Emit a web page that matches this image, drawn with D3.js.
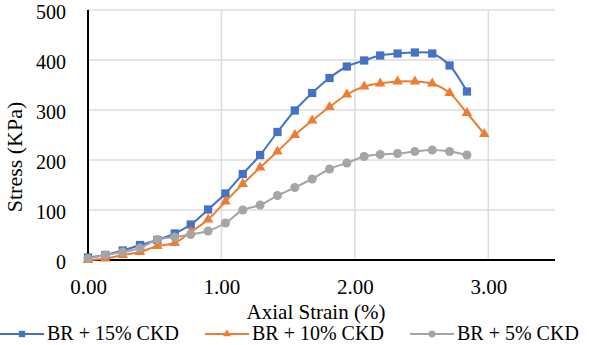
<!DOCTYPE html>
<html>
<head>
<meta charset="utf-8">
<script src="https://cdn.jsdelivr.net/npm/d3@7"></script>
<style>
  body { margin: 0; background: #fff; }
  text { font-family: "Liberation Serif", "Times New Roman", serif; fill: #000; }
</style>
</head>
<body>
<div id="chart"></div>
<script>
// data
var strain = [0, 0.13, 0.26, 0.39, 0.52, 0.65, 0.77, 0.90, 1.03, 1.16, 1.29, 1.42,
  1.55, 1.68, 1.81, 1.94, 2.07, 2.19, 2.32, 2.45, 2.58, 2.71, 2.84, 2.97];
var ckd15 = [5, 10, 19, 30, 40, 53, 71, 101, 133, 172, 210, 256, 299, 334, 364, 387,
  399, 409, 413, 415, 413, 389, 337];
var ckd10 = [0, 3, 10, 16, 28, 34, 56, 81, 117, 152, 185, 217, 250, 279, 306, 331,
  347, 353, 357, 357, 353, 334, 294, 252];
var ckd5 = [3, 10, 16, 24, 41, 46, 51, 58, 74, 100, 110, 129, 145, 162, 182, 194,
  207, 211, 213, 217, 220, 217, 210];
var xTicks = [0, 1, 2, 3];
var yTicks = [0, 100, 200, 300, 400, 500];
var seriesNames = ["BR + 15% CKD", "BR + 10% CKD", "BR + 5% CKD"];

var svgWidth = 589;
var svgHeight = 345;

var svg = d3.select("#chart")
  .append("svg")
  .attr("width", svgWidth)
  .attr("height", svgHeight);

var x = d3.scaleLinear().domain([0, 3.5]).range([88, 555]);
var y = d3.scaleLinear().domain([0, 500]).range([260, 10]);

var series = [
  { name: seriesNames[0], values: ckd15, color: "#4472c4", shape: d3.symbolSquare, size: 68 },
  { name: seriesNames[1], values: ckd10, color: "#ed7d31", shape: d3.symbolTriangle, size: 48 },
  { name: seriesNames[2], values: ckd5, color: "#a5a5a5", shape: d3.symbolCircle, size: 64 }
];

// gridlines
svg.append("g")
  .selectAll("line.h")
  .data(yTicks.slice(1))
  .enter()
  .append("line")
  .attr("x1", x(0)).attr("x2", x(3.5))
  .attr("y1", d => y(d)).attr("y2", d => y(d))
  .attr("stroke", "#dadde3")
  .attr("stroke-width", 1.5);

svg.append("g")
  .selectAll("line.v")
  .data(xTicks.slice(1))
  .enter()
  .append("line")
  .attr("x1", d => x(d)).attr("x2", d => x(d))
  .attr("y1", y(500)).attr("y2", y(0))
  .attr("stroke", "#dadde3")
  .attr("stroke-width", 1.5);

// axes
var bottomAxis = d3.axisBottom(x).tickValues(xTicks).tickSize(0).tickPadding(19)
  .tickFormat(d3.format(".2f"));
var leftAxis = d3.axisLeft(y).tickValues(yTicks).tickSize(0).tickPadding(22);

var xAxis = svg.append("g")
  .attr("transform", `translate(0, ${y(0)})`)
  .call(bottomAxis);
var yAxis = svg.append("g")
  .attr("transform", `translate(${x(0)}, 0)`)
  .call(leftAxis);

xAxis.select(".domain").remove();
yAxis.select(".domain").remove();
xAxis.selectAll("text").style("font-size", "21px").attr("fill", "#000");
yAxis.selectAll("text").style("font-size", "20px").attr("fill", "#000").attr("dy", "0.4em");

svg.append("line")
  .attr("x1", x(0)).attr("x2", x(3.5))
  .attr("y1", y(0)).attr("y2", y(0))
  .attr("stroke", "#000").attr("stroke-width", 2);
svg.append("line")
  .attr("x1", x(0)).attr("x2", x(0))
  .attr("y1", y(500)).attr("y2", y(0))
  .attr("stroke", "#000").attr("stroke-width", 2);

// lines and markers
var line = d3.line()
  .x((d, i) => x(strain[i]))
  .y(d => y(d))
  .curve(d3.curveCatmullRom.alpha(0.5));

series.forEach(function(s) {
  svg.append("path")
    .datum(s.values)
    .attr("d", line)
    .attr("fill", "none")
    .attr("stroke", s.color)
    .attr("stroke-width", 2);

  svg.append("g")
    .selectAll("path")
    .data(s.values)
    .enter()
    .append("path")
    .attr("d", d3.symbol().type(s.shape).size(s.size))
    .attr("transform", (d, i) => `translate(${x(strain[i])}, ${y(d)})`)
    .attr("fill", s.color);
});

// axis titles
svg.append("text")
  .attr("x", 316)
  .attr("y", 319)
  .attr("text-anchor", "middle")
  .style("font-size", "21px")
  .text("Axial Strain (%)");

svg.append("text")
  .attr("transform", "translate(22, 157) rotate(-90)")
  .attr("text-anchor", "middle")
  .style("font-size", "22px")
  .text("Stress (KPa)");

// legend
var legendX = [0, 205, 410];
series.forEach(function(s, i) {
  var lg = svg.append("g").attr("transform", `translate(${legendX[i]}, 334)`);
  lg.append("line")
    .attr("x1", 0).attr("x2", 44)
    .attr("y1", 0).attr("y2", 0)
    .attr("stroke", s.color).attr("stroke-width", 2);
  lg.append("path")
    .attr("d", d3.symbol().type(s.shape).size(s.size * 0.6))
    .attr("transform", "translate(22, 0)")
    .attr("fill", s.color);
  lg.append("text")
    .attr("x", 47)
    .attr("y", 6)
    .style("font-size", "20px")
    .text(s.name);
});
</script>
</body>
</html>
